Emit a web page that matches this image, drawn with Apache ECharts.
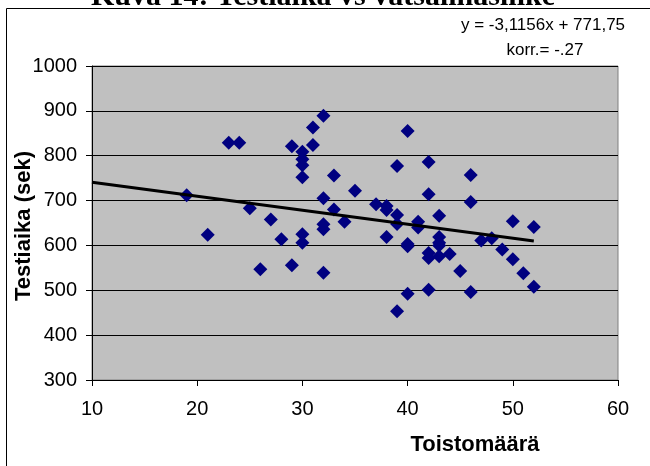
<!DOCTYPE html>
<html>
<head>
<meta charset="utf-8">
<script src="https://cdn.jsdelivr.net/npm/echarts@6/dist/echarts.min.js"></script>
<style>
  html, body { margin: 0; padding: 0; background: #fff; }
  #main { width: 650px; height: 466px; }
</style>
</head>
<body>
<div id="main"></div>
<script>
// toistomäärä (x) ja testiaika (y) luettuna kuvasta
const toisto = [
  19, 21, 23, 24, 25, 26, 27, 28, 29, 29,
  30, 30, 30, 30, 30, 30, 31, 31, 32, 32,
  32, 32, 32, 33, 33, 34, 35, 37, 38, 38,
  38, 39, 39, 39, 39, 40, 40, 40, 40, 41,
  41, 42, 42, 42, 42, 42, 43, 43, 43, 43,
  43, 44, 45, 46, 46, 46, 47, 48, 49, 50,
  50, 51, 52, 52
];
const testiaika = [
  712, 624, 829, 829, 683, 547, 658, 614, 821, 556,
  809, 792, 779, 752, 625, 606, 863, 824, 889, 705,
  647, 636, 539, 756, 680, 653, 722, 692, 688, 679,
  619, 777, 668, 648, 453, 855, 603, 598, 492, 653,
  640, 786, 714, 583, 572, 501, 666, 619, 606, 600,
  576, 581, 543, 757, 697, 496, 611, 616, 591, 654,
  569, 538, 641, 508
];
// trendiviivan päätepisteet
const trendX = [10, 52];
const trendY = [740.6, 609.7];

const xTicks = [10, 20, 30, 40, 50, 60];
const yTicks = [300, 400, 500, 600, 700, 800, 900, 1000];

const titleText = 'Kuva 14: Testiaika vs vatsalihasliike';
const eqText = 'y = -3,1156x + 771,75';
const corrText = 'korr.= -.27';

const points = toisto.map((x, i) => [x, testiaika[i]]);
const trend = trendX.map((x, i) => [x, trendY[i]]);

const chart = echarts.init(document.getElementById('main'), null, { renderer: 'canvas' });

const labelFont = { fontFamily: 'Liberation Sans, Arial, sans-serif', fontSize: 20, color: '#000' };

chart.setOption({
  animation: false,
  backgroundColor: '#fff',
  grid: {
    left: 92, top: 66, width: 526, height: 314,
    show: true,
    backgroundColor: '#C0C0C0',
    borderColor: '#808080',
    borderWidth: 1
  },
  xAxis: {
    type: 'value',
    min: xTicks[0], max: xTicks[xTicks.length - 1], interval: 10,
    axisLine: { show: true, onZero: false, lineStyle: { color: '#000', width: 1 } },
    axisTick: { show: true, inside: false, length: 6, lineStyle: { color: '#000' } },
    axisLabel: Object.assign({ margin: 19, formatter: v => String(v) }, labelFont),
    splitLine: { show: false }
  },
  yAxis: {
    type: 'value',
    min: yTicks[0], max: yTicks[yTicks.length - 1], interval: 100,
    axisLine: { show: true, onZero: false, lineStyle: { color: '#000', width: 1 } },
    axisTick: { show: true, inside: false, length: 6, lineStyle: { color: '#000' } },
    axisLabel: Object.assign({ margin: 15, formatter: v => String(v) }, labelFont),
    splitLine: { show: true, lineStyle: { color: '#000', width: 1 } }
  },
  series: [
    {
      type: 'scatter',
      data: points,
      symbol: 'diamond',
      symbolSize: 14,
      itemStyle: { color: '#000080', opacity: 1 }
    },
    {
      type: 'line',
      data: trend,
      symbol: 'none',
      lineStyle: { color: '#000', width: 3 },
      z: 3
    }
  ],
  graphic: [
    {
      type: 'rect',
      shape: { x: 6.5, y: 8.5, width: 700, height: 500 },
      style: { fill: 'none', stroke: '#000', lineWidth: 1 },
      silent: true, z: -1
    },
    {
      type: 'text',
      x: 323, y: 12,
      style: {
        text: titleText,
        font: 'bold 30px "Liberation Serif", "Times New Roman", serif',
        fill: '#000',
        align: 'center',
        verticalAlign: 'bottom'
      }
    },
    {
      type: 'text',
      x: 543, y: 25,
      style: {
        text: eqText,
        font: '17px "Liberation Sans", Arial, sans-serif',
        fill: '#000',
        align: 'center',
        verticalAlign: 'middle'
      }
    },
    {
      type: 'text',
      x: 545, y: 50,
      style: {
        text: corrText,
        font: '17px "Liberation Sans", Arial, sans-serif',
        fill: '#000',
        align: 'center',
        verticalAlign: 'middle'
      }
    },
    {
      type: 'text',
      x: 475, y: 445,
      style: {
        text: 'Toistomäärä',
        font: 'bold 22px "Liberation Sans", Arial, sans-serif',
        fill: '#000',
        align: 'center',
        verticalAlign: 'middle'
      }
    },
    {
      type: 'text',
      x: 24, y: 226,
      rotation: Math.PI / 2,
      style: {
        text: 'Testiaika (sek)',
        font: 'bold 22px "Liberation Sans", Arial, sans-serif',
        fill: '#000',
        align: 'center',
        verticalAlign: 'middle'
      }
    }
  ]
});
</script>
</body>
</html>
